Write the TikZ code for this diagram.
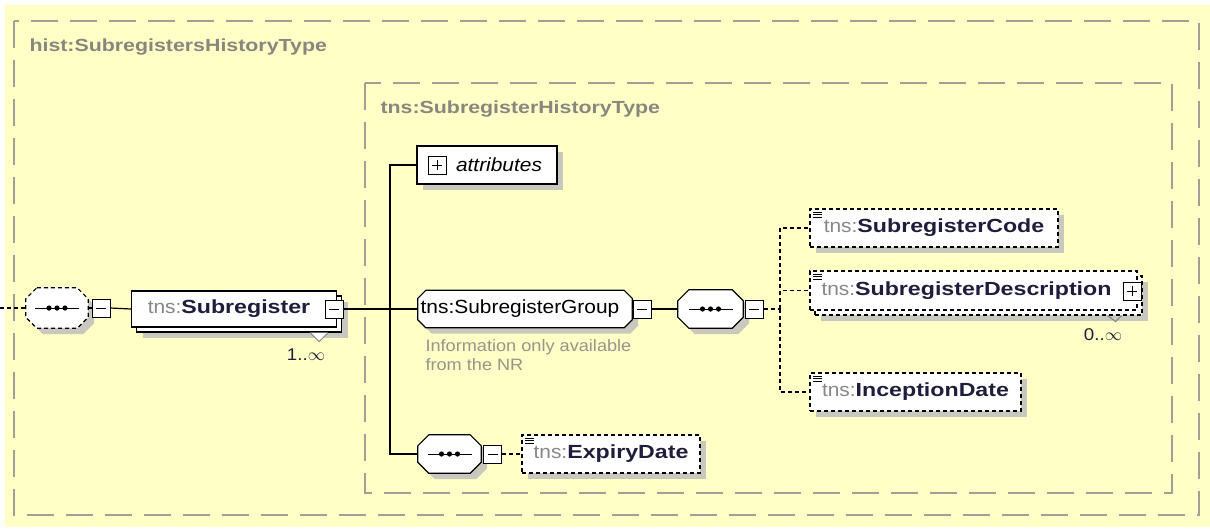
\documentclass[tikz,border=0pt]{standalone}
\usepackage{fontspec}
\setmainfont{Liberation Sans}[FakeStretch=1.1,BoldFeatures={FakeStretch=1.22}]
\usetikzlibrary{shadows}

\definecolor{bgyellow}{RGB}{255,255,198}
\definecolor{framegray}{RGB}{160,160,150}
\definecolor{titlegray}{RGB}{135,135,128}
\definecolor{prefixgray}{RGB}{135,135,135}
\definecolor{namedark}{RGB}{30,30,60}
\definecolor{notegray}{RGB}{150,150,140}
\definecolor{shadowgray}{RGB}{200,200,190}
\newcommand{\tnsel}[1]{{\color{prefixgray}tns:}{\color{namedark}\bfseries #1}}
% octagon round a node, #2 = size of the cut corners
\newcommand{\octopath}[2]{([xshift=#2]#1.north west) -- ([xshift=-#2]#1.north east) -- ([yshift=-#2]#1.north east)
  -- ([yshift=#2]#1.south east) -- ([xshift=-#2]#1.south east) -- ([xshift=#2]#1.south west)
  -- ([yshift=#2]#1.south west) -- ([yshift=-#2]#1.north west) -- cycle}
\newcommand{\seqdots}[1]{\draw[line width=1pt] ([xshift=-22pt]#1.center) -- ([xshift=22pt]#1.center);
  \foreach \d in {-8,0,8} \fill ([xshift=\d pt]#1.center) circle (2.6pt);}

\pgfdeclarelayer{back}
\pgfdeclarelayer{body}
\pgfsetlayers{back,body,main}

\begin{document}
\begin{tikzpicture}[x=1pt,y=-1pt]

\tikzset{frame/.style = {draw=framegray, line width=2pt, dash pattern=on 27pt off 12pt}}
\tikzset{title/.style = {anchor=west, text=titlegray, font=\fontsize{17.5}{20}\selectfont\bfseries}}
\tikzset{shade/.style = {drop shadow={shadow xshift=6pt, shadow yshift=-6pt, fill=shadowgray, opacity=1}}}
\tikzset{stack/.style = {drop shadow={shadow xshift=11pt, shadow yshift=-11pt, fill=shadowgray, opacity=1},
  copy shadow={shadow xshift=5pt, shadow yshift=-5pt, draw=black, fill=white, #1}}}
\tikzset{opt/.style = {dash pattern=on 4pt off 3pt}}
\tikzset{elem/.style = {shape=rectangle, draw, fill=white, line width=1.2pt, inner sep=0pt,
  minimum height=38pt, font=\fontsize{19}{22}\selectfont}}
\tikzset{simple/.style = {path picture={\foreach \k in {0,1,2}
  \draw[solid, line width=0.9pt] ([xshift=3pt,yshift={-3pt-2.6*\k pt}]path picture bounding box.north west) -- ++(9pt,0pt);}}}
\tikzset{hold/.style = {shape=rectangle, inner sep=0pt, minimum height=38pt, font=\fontsize{19}{22}\selectfont}}
\tikzset{octo/.style = {draw, fill=white, line width=1.2pt}}
\tikzset{pmbox/.style = {draw, fill=white, line width=1pt, minimum size=18pt, inner sep=0pt}}
\tikzset{minus/.style = {pmbox, path picture={\draw ([xshift=4pt]path picture bounding box.west) -- ([xshift=-4pt]path picture bounding box.east);}}}
\tikzset{plus/.style = {pmbox, path picture={\draw ([xshift=4pt]path picture bounding box.west) -- ([xshift=-4pt]path picture bounding box.east);
  \draw ([yshift=4pt]path picture bounding box.south) -- ([yshift=-4pt]path picture bounding box.north);}}}
\tikzset{edge/.style = {line width=1.2pt}}
\tikzset{optedge/.style = {line width=1.2pt, dash pattern=on 4pt off 3pt}}

\useasboundingbox (0,0) rectangle (1210,531);

%groups
\begin{pgfonlayer}{back}
\fill[white] (0,0) rectangle (1210,531);
\fill[bgyellow] (5,5) rectangle (1210,527);
\draw[frame] (13.5,21) rectangle (1199,515);
\draw[frame] (365,83) rectangle (1172,493);
\end{pgfonlayer}
\node[title] (outer) at (26,47) {hist:SubregistersHistoryType};
\node[title] (inner) at (377,109) {tns:SubregisterHistoryType};

%nodes
\coordinate (in) at (0,308);
\node[hold, minimum width=62pt, minimum height=40pt] (lseq) at (57,308) {};
\node[minus] (lseqm) at (101,308) {};
\node[elem, stack, minimum width=205pt, minimum height=36pt] (sub) at (234,309) {\tnsel{Subregister}\hspace*{10pt}};
\node[minus] (subm) at (334,309) {};
\node[font=\fontsize{17}{20}\selectfont, text=namedark] (subocc) at (306,355) {1..$\infty$};
\coordinate (fork) at (390,309);

\node[elem, shade, minimum width=140pt] (attr) at (487,165) {\hspace*{24pt}\itshape attributes};
\node[plus] (attrp) at (437,165) {};

\node[hold, minimum width=214pt, minimum height=37pt] (grp) at (525,309) {tns:SubregisterGroup\hspace*{10pt}};
\node[minus] (grpm) at (642,309) {};
\node[anchor=north west, align=left, text=notegray, font=\fontsize{16.5}{19.5}\selectfont] (note) at (422,336)
  {Information only available\\from the NR};

\node[hold, minimum width=65pt] (seqa) at (710.5,309) {};
\node[minus] (seqam) at (754,309) {};
\coordinate (split) at (780,309);

\node[elem, opt, shade, simple, minimum width=248pt] (code) at (934,228) {\tnsel{SubregisterCode}};
\node[elem, opt, stack={opt}, simple, minimum width=327pt, minimum height=39pt] (desc) at (973.5,290.5)
  {\tnsel{SubregisterDescription}\hspace*{14pt}};
\node[plus] (descp) at (1132,291) {};
\node[font=\fontsize{17}{20}\selectfont, text=namedark] (descocc) at (1103,335) {0..$\infty$};
\node[elem, opt, shade, simple, minimum width=211pt] (incep) at (915.5,392) {\tnsel{InceptionDate}};

\node[hold, minimum width=63pt] (seqb) at (449.5,454) {};
\node[minus] (seqbm) at (492.5,454) {};
\node[elem, opt, shade, simple, minimum width=178pt] (expiry) at (611,454) {\tnsel{ExpiryDate}};

%octagons
\begin{pgfonlayer}{body}
\draw[octo, opt, shade] \octopath{lseq}{11pt};
\draw[octo, shade] \octopath{grp}{8pt};
\draw[octo, shade] \octopath{seqa}{11pt};
\draw[octo, shade] \octopath{seqb}{11pt};
\end{pgfonlayer}
\seqdots{lseq}
\seqdots{seqa}
\seqdots{seqb}

%occurrence marks
\draw[line width=1pt, draw=gray, fill=white] ([xshift=-27pt,yshift=-5pt]sub.south east) -- ++(9pt,-9pt) -- ++(9pt,9pt);
\draw[line width=1pt, draw=gray] ([xshift=-30pt,yshift=-5pt]desc.south east) -- ++(8pt,-6pt) -- ++(6pt,6pt);

%edges
\draw[optedge] (in) -- (lseq.west);
\draw[edge] (lseq.east) -- (lseqm.west);
\draw[edge] (lseqm.east) -- (sub.west);
\draw[edge] (subm.east) -- (fork);
\draw[edge] (fork) |- (attr.west);
\draw[edge] (fork) -- (grp.west);
\draw[edge] (fork) |- (seqb.west);
\draw[edge] (grpm.east) -- (seqa.west);
\draw[optedge] (seqam.east) -- (split);
\draw[optedge] (split) |- (code.west);
\draw[optedge] (split) |- (desc.west);
\draw[optedge] (split) |- (incep.west);
\draw[optedge] (seqbm.east) -- (expiry.west);

\end{tikzpicture}
\end{document}
